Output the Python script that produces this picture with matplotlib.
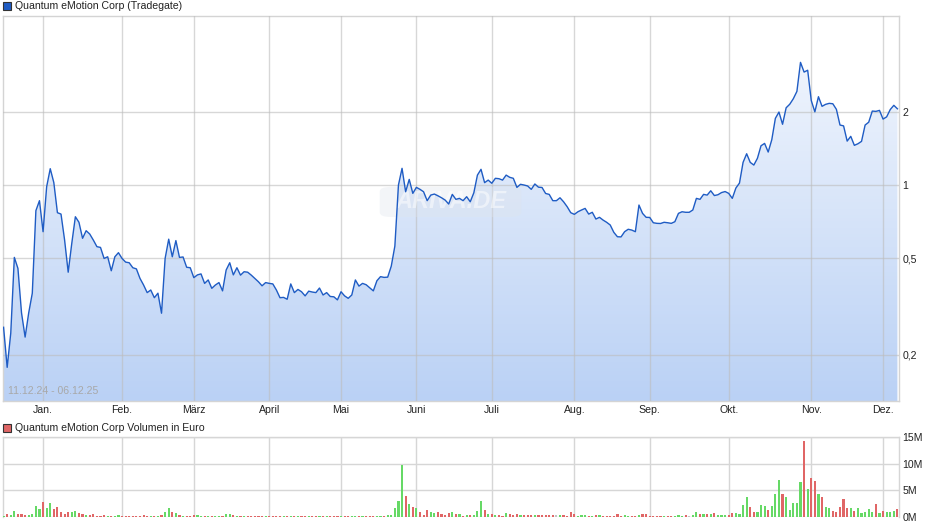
import numpy as np
import matplotlib
matplotlib.use("Agg")
import matplotlib.pyplot as plt
from matplotlib.colors import LinearSegmentedColormap
from matplotlib.patches import Rectangle, FancyBboxPatch

plt.rcParams['font.family'] = ['Liberation Sans', 'DejaVu Sans']

# ---------------- data ----------------
title_main = "Quantum eMotion Corp (Tradegate)"
title_vol = "Quantum eMotion Corp Volumen in Euro"
date_range = "11.12.24 - 06.12.25"

# daily closing prices (EUR), one per trading day
price = [
    0.259, 0.177, 0.245, 0.503, 0.453, 0.297, 0.236, 0.297, 0.358, 0.784,
    0.862, 0.642, 0.984, 1.168, 1.023, 0.769, 0.759, 0.593, 0.437, 0.575,
    0.740, 0.702, 0.603, 0.648, 0.628, 0.593, 0.557, 0.553, 0.498, 0.506,
    0.443, 0.506, 0.526, 0.498, 0.481, 0.478, 0.456, 0.451, 0.412, 0.387,
    0.360, 0.369, 0.343, 0.358, 0.296, 0.498, 0.598, 0.506, 0.590, 0.503,
    0.505, 0.458, 0.456, 0.415, 0.426, 0.430, 0.393, 0.406, 0.375, 0.387,
    0.396, 0.366, 0.446, 0.478, 0.426, 0.456, 0.425, 0.439, 0.437, 0.425,
    0.412, 0.399, 0.384, 0.396, 0.393, 0.391, 0.369, 0.343, 0.344, 0.338,
    0.391, 0.360, 0.371, 0.363, 0.349, 0.365, 0.362, 0.360, 0.376, 0.352,
    0.360, 0.347, 0.346, 0.336, 0.363, 0.349, 0.341, 0.352, 0.406, 0.383,
    0.393, 0.388, 0.377, 0.366, 0.403, 0.419, 0.416, 0.417, 0.463, 0.560,
    1.000, 1.172, 0.938, 1.055, 0.924, 0.978, 0.960, 0.938, 0.862, 0.909,
    0.918, 0.903, 0.886, 0.867, 0.835, 0.915, 0.873, 0.881, 0.862, 0.895,
    0.853, 0.929, 1.099, 1.161, 1.023, 1.048, 1.017, 1.066, 1.062, 1.048,
    1.099, 1.076, 1.066, 0.978, 1.007, 1.000, 0.991, 0.960, 1.010, 0.980,
    0.977, 0.923, 0.915, 0.862, 0.862, 0.886, 0.853, 0.814, 0.769, 0.757,
    0.776, 0.789, 0.801, 0.759, 0.772, 0.724, 0.736, 0.717, 0.702, 0.684,
    0.638, 0.612, 0.611, 0.642, 0.657, 0.652, 0.642, 0.827, 0.764, 0.736,
    0.735, 0.699, 0.695, 0.694, 0.702, 0.699, 0.695, 0.706, 0.764, 0.776,
    0.772, 0.772, 0.789, 0.881, 0.873, 0.915, 0.909, 0.947, 0.905, 0.912,
    0.931, 0.940, 0.924, 0.881, 0.972, 1.019, 1.240, 1.346, 1.240, 1.209,
    1.289, 1.452, 1.485, 1.368, 1.538, 1.884, 2.000, 1.781, 2.083, 2.154,
    2.270, 2.434, 3.206, 2.924, 2.975, 2.230, 2.004, 2.314, 2.112, 2.152,
    2.172, 2.164, 2.052, 1.768, 1.754, 1.518, 1.588, 1.458, 1.480, 1.514,
    1.768, 1.816, 2.019, 2.013, 2.032, 1.871, 1.911, 2.048, 2.132, 2.063,
]

# daily turnover in million EUR
volume_m = [
    0.2, 0.5, 0.3, 1.1, 0.5, 0.5, 0.3, 0.3, 0.5, 2.0,
    1.45, 2.8, 1.6, 2.6, 1.45, 1.8, 0.9, 0.5, 0.9, 0.95,
    1.1, 0.7, 0.5, 0.3, 0.3, 0.5, 0.15, 0.15, 0.3, 0.15,
    0.15, 0.15, 0.3, 0.15, 0.15, 0.15, 0.15, 0.15, 0.15, 0.3,
    0.15, 0.15, 0.15, 0.15, 0.3, 0.9, 1.6, 0.9, 0.7, 0.3,
    0.15, 0.15, 0.15, 0.3, 0.3, 0.15, 0.15, 0.15, 0.15, 0.15,
    0.15, 0.15, 0.5, 0.5, 0.3, 0.15, 0.15, 0.15, 0.15, 0.15,
    0.15, 0.15, 0.15, 0.15, 0.15, 0.15, 0.15, 0.15, 0.15, 0.15,
    0.15, 0.15, 0.15, 0.15, 0.15, 0.15, 0.15, 0.15, 0.15, 0.15,
    0.15, 0.15, 0.15, 0.15, 0.15, 0.15, 0.15, 0.15, 0.15, 0.15,
    0.15, 0.15, 0.15, 0.15, 0.15, 0.15, 0.15, 0.3, 0.3, 1.6,
    3.0, 9.8, 3.9, 2.4, 1.8, 1.6, 0.9, 0.3, 1.3, 0.9,
    0.7, 0.9, 0.5, 0.3, 0.7, 0.9, 0.5, 0.5, 0.15, 0.3,
    0.3, 0.3, 1.1, 3.0, 1.4, 0.5, 0.5, 0.3, 0.3, 0.2,
    0.7, 0.5, 0.3, 0.5, 0.3, 0.3, 0.3, 0.3, 0.3, 0.3,
    0.3, 0.3, 0.3, 0.3, 0.3, 0.3, 0.3, 0.2, 0.9, 0.5,
    0.2, 0.3, 0.3, 0.2, 0.2, 0.3, 0.3, 0.2, 0.2, 0.2,
    0.2, 0.5, 0.2, 0.3, 0.2, 0.2, 0.2, 0.3, 0.5, 0.5,
    0.2, 0.2, 0.2, 0.2, 0.2, 0.2, 0.2, 0.2, 0.3, 0.2,
    0.3, 0.2, 0.3, 0.9, 0.5, 0.5, 0.5, 0.5, 0.7, 0.3,
    0.3, 0.3, 0.3, 0.7, 0.7, 0.5, 2.2, 3.7, 1.8, 0.9,
    0.9, 2.2, 2.0, 1.3, 2.0, 4.3, 7.0, 4.3, 3.7, 1.3,
    2.6, 2.6, 6.6, 14.3, 5.3, 7.3, 6.8, 4.3, 3.7, 1.8,
    1.6, 1.1, 0.9, 1.8, 3.4, 1.6, 1.6, 1.1, 1.6, 0.7,
    0.9, 1.5, 0.9, 2.4, 0.7, 1.1, 0.9, 0.9, 1.1, 1.5,
]

month_labels = ["Jan.", "Feb.", "März", "April", "Mai", "Juni", "Juli",
                "Aug.", "Sep.", "Okt.", "Nov.", "Dez."]
month_start_idx = [11, 33, 53, 74, 94, 115, 136, 159, 180, 202, 225, 245]

price_ticks = [0.2, 0.5, 1, 2]
price_tick_labels = ["0,2", "0,5", "1", "2"]
vol_ticks = [0, 5, 10, 15]
vol_tick_labels = ["0M", "5M", "10M", "15M"]

# ---------------- figure ----------------
W, H = 940, 526
fig = plt.figure(figsize=(W / 100, H / 100), dpi=100)
fig.patch.set_facecolor("white")


def rect(l, t, r, b):
    return [l / W, 1 - b / H, (r - l) / W, (b - t) / H]


x = np.arange(len(price))
xlim = (-0.3, len(price) - 0.7)
grid_col = "#d6d6d6"
text_col = "#222222"
fs = 7.6

# ---- price panel ----
ax = fig.add_axes(rect(2.5, 16, 898.5, 401))
ax.set_yscale("log")
ax.set_xlim(*xlim)
ax.set_ylim(0.1286, 4.98)

# gradient fill under the curve
poly = ax.fill_between(x, price, 0.01, facecolor="none", edgecolor="none")
cmap = LinearSegmentedColormap.from_list("g", ["#bad1f5", "#f6f9fe"])
grad = np.linspace(0, 1, 256).reshape(-1, 1)
im = ax.imshow(grad, cmap=cmap, aspect="auto", extent=[0, 1, 0, 1],
               transform=ax.transAxes, origin="lower", zorder=1)
path = poly.get_paths()[0]
im.set_clip_path(path, transform=ax.transData)

ax.plot(x, price, color="#1f5cc4", lw=1.0, zorder=4)

ax.set_yticks(price_ticks)
ax.set_yticklabels(price_tick_labels)
ax.yaxis.set_minor_locator(matplotlib.ticker.NullLocator())
ax.yaxis.tick_right()
ax.set_xticks(month_start_idx)
ax.set_xticklabels(month_labels)
ax.tick_params(axis="both", length=0, labelsize=fs, colors=text_col)
ax.tick_params(axis="y", pad=3)
ax.tick_params(axis="x", pad=3)
ax.grid(True, color="#bdbdbd", alpha=0.6, lw=1.0, zorder=2)
ax.set_axisbelow(False)
for s in ax.spines.values():
    s.set_color("#d4d4d4")
    s.set_linewidth(1.0)

ax.text(0.006, 0.012, date_range, transform=ax.transAxes, fontsize=fs,
        color="#a8a8a8", ha="left", va="bottom", zorder=5)

# watermark
wm = FancyBboxPatch((0.425, 0.482), 0.15, 0.07, transform=ax.transAxes,
                    boxstyle="round,pad=0.004,rounding_size=0.012",
                    facecolor="#dfe4ec", edgecolor="none", alpha=0.35, zorder=3)
ax.add_patch(wm)
ax.text(0.5, 0.517, "ARIVA.DE", transform=ax.transAxes, fontsize=17,
        fontstyle="italic", fontweight="bold", color="white", alpha=0.5,
        ha="center", va="center", zorder=3)

# ---- volume panel ----
axv = fig.add_axes(rect(2.5, 437, 898.5, 517))
axv.set_xlim(*xlim)
axv.set_ylim(0, 15)
diff = np.diff(np.array(price), prepend=price[0] * 0.99)
bar_colors = ["#66d966" if d > 0 else ("#e06666" if d < 0 else "#c4c4c4")
              for d in diff]
axv.bar(x, volume_m, width=0.6, color=bar_colors, zorder=3, linewidth=0)
axv.set_yticks(vol_ticks)
axv.set_yticklabels(vol_tick_labels)
axv.yaxis.tick_right()
axv.set_xticks(month_start_idx)
axv.set_xticklabels([])
axv.tick_params(axis="both", length=0, labelsize=fs, colors=text_col)
axv.tick_params(axis="y", pad=3)
axv.grid(True, color=grid_col, lw=1.0, zorder=0)
axv.set_axisbelow(True)
for name, s in axv.spines.items():
    s.set_color(grid_col)
    s.set_linewidth(1.0)
axv.spines["bottom"].set_visible(False)

# ---- legend squares / titles ----
fig.add_artist(Rectangle((3 / W, 1 - 10 / H), 8 / W, 8 / H,
                         transform=fig.transFigure, facecolor="#1f5cc4",
                         edgecolor="#333333", lw=0.8))
fig.text(15 / W, 1 - 6 / H, title_main, fontsize=fs, color=text_col,
         ha="left", va="center")
fig.add_artist(Rectangle((3 / W, 1 - 432 / H), 8 / W, 8 / H,
                         transform=fig.transFigure, facecolor="#e06666",
                         edgecolor="#333333", lw=0.8))
fig.text(15 / W, 1 - 428 / H, title_vol, fontsize=fs, color=text_col,
         ha="left", va="center")

fig.savefig("out.png", dpi=100, facecolor="white")
